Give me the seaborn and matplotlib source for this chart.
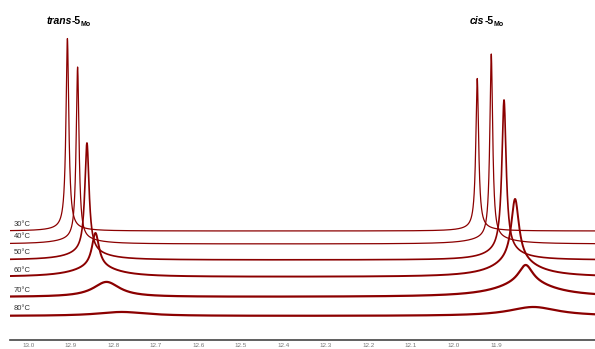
import numpy as np
import pandas as pd
import matplotlib
matplotlib.use('Agg')
import matplotlib.pyplot as plt
import seaborn as sns

# peak parameters (ppm, arbitrary intensity)
# each signal = sharp core line + broad exchange foot
temps = ['30°C', '40°C', '50°C', '60°C', '70°C', '80°C']
offsets = [109, 96, 80, 63, 43, 24]

trans_shift = [12.908, 12.884, 12.862, 12.842, 12.816, 12.78]
trans_height = [190, 172, 109, 34, 15, 4]
trans_hwhm = [0.004, 0.004, 0.006, 0.010, 0.038, 0.07]
trans_foot = [2.5, 5, 8, 10, 0, 0]
trans_foot_hwhm = [0.04, 0.05, 0.05, 0.06, 0.06, 0.06]

cis_shift = [11.944, 11.911, 11.881, 11.855, 11.830, 11.812]
cis_height = [150, 184, 150, 62, 18, 9]
cis_hwhm = [0.004, 0.004, 0.006, 0.011, 0.020, 0.07]
cis_foot = [2.5, 6, 10, 16, 14, 0]
cis_foot_hwhm = [0.04, 0.054, 0.045, 0.06, 0.08, 0.08]

tick_ppm = [13.0, 12.9, 12.8, 12.7, 12.6, 12.5, 12.4, 12.3, 12.2, 12.1, 12.0, 11.9]

sns.set_style('white')
plt.rcParams['font.family'] = ['Liberation Sans', 'DejaVu Sans']

ppm = np.linspace(13.05, 11.65, 8000)


def lorentz(x, x0, h, g):
    return h * g**2 / ((x - x0)**2 + g**2)


rows = []
for i, t in enumerate(temps):
    y = (offsets[i]
         + lorentz(ppm, trans_shift[i], trans_height[i], trans_hwhm[i])
         + lorentz(ppm, trans_shift[i], trans_foot[i], trans_foot_hwhm[i])
         + lorentz(ppm, cis_shift[i], cis_height[i], cis_hwhm[i])
         + lorentz(ppm, cis_shift[i], cis_foot[i], cis_foot_hwhm[i]))
    rows.append(pd.DataFrame({'ppm': ppm, 'intensity': y, 'temp': t}))
spec = pd.concat(rows, ignore_index=True)

fig = plt.figure(figsize=(5.95, 3.49), dpi=100)
ax = fig.add_axes([10 / 595, 9 / 349, 585 / 595, 340 / 349])

widths = [0.9, 0.9, 1.2, 1.4, 1.6, 1.6]
for i, t in enumerate(temps):
    sns.lineplot(data=spec[spec['temp'] == t], x='ppm', y='intensity',
                 color='#8b0000', linewidth=widths[i], estimator=None,
                 sort=False, ax=ax)
    ax.text(13.035, offsets[i] + 3.5, t, fontsize=5.5, color='#333333',
            va='bottom', ha='left')

ax.set_xlim(13.043, 11.667)
ax.set_ylim(0, 340)
ax.set_xlabel('')
ax.set_ylabel('')
ax.set_yticks([])
for s in ['top', 'left', 'right']:
    ax.spines[s].set_visible(False)
ax.spines['bottom'].set_color('#444444')
ax.spines['bottom'].set_linewidth(1.2)
ax.set_xticks(tick_ppm)
ax.set_xticklabels([f'{v:.1f}' for v in tick_ppm])
ax.set_xticks(np.array(tick_ppm) - 0.05, minor=True)
ax.tick_params(axis='x', which='major', direction='inout', length=4,
               width=1, color='#333333', labelsize=4.5, labelcolor='#777777',
               pad=0.5)
ax.tick_params(axis='x', which='minor', direction='inout', length=2.5,
               width=0.8, color='#333333')

# compound labels
for xp, name in [(12.958, 'trans'), (11.961, 'cis')]:
    t1 = ax.text(xp, 316, name, fontsize=7.5, fontweight='bold',
                 fontstyle='italic', va='baseline', color='black')
    t2 = ax.annotate('-5', xy=(1, 0), xycoords=t1, xytext=(0.1, 0),
                     textcoords='offset points', fontsize=7.5,
                     fontweight='bold', va='bottom', color='black')
    ax.annotate('Mo', xy=(1, 0), xycoords=t2, xytext=(0.1, -1.5),
                textcoords='offset points', fontsize=5, fontweight='bold',
                va='bottom', color='black')

fig.savefig('out.png', dpi=100)
